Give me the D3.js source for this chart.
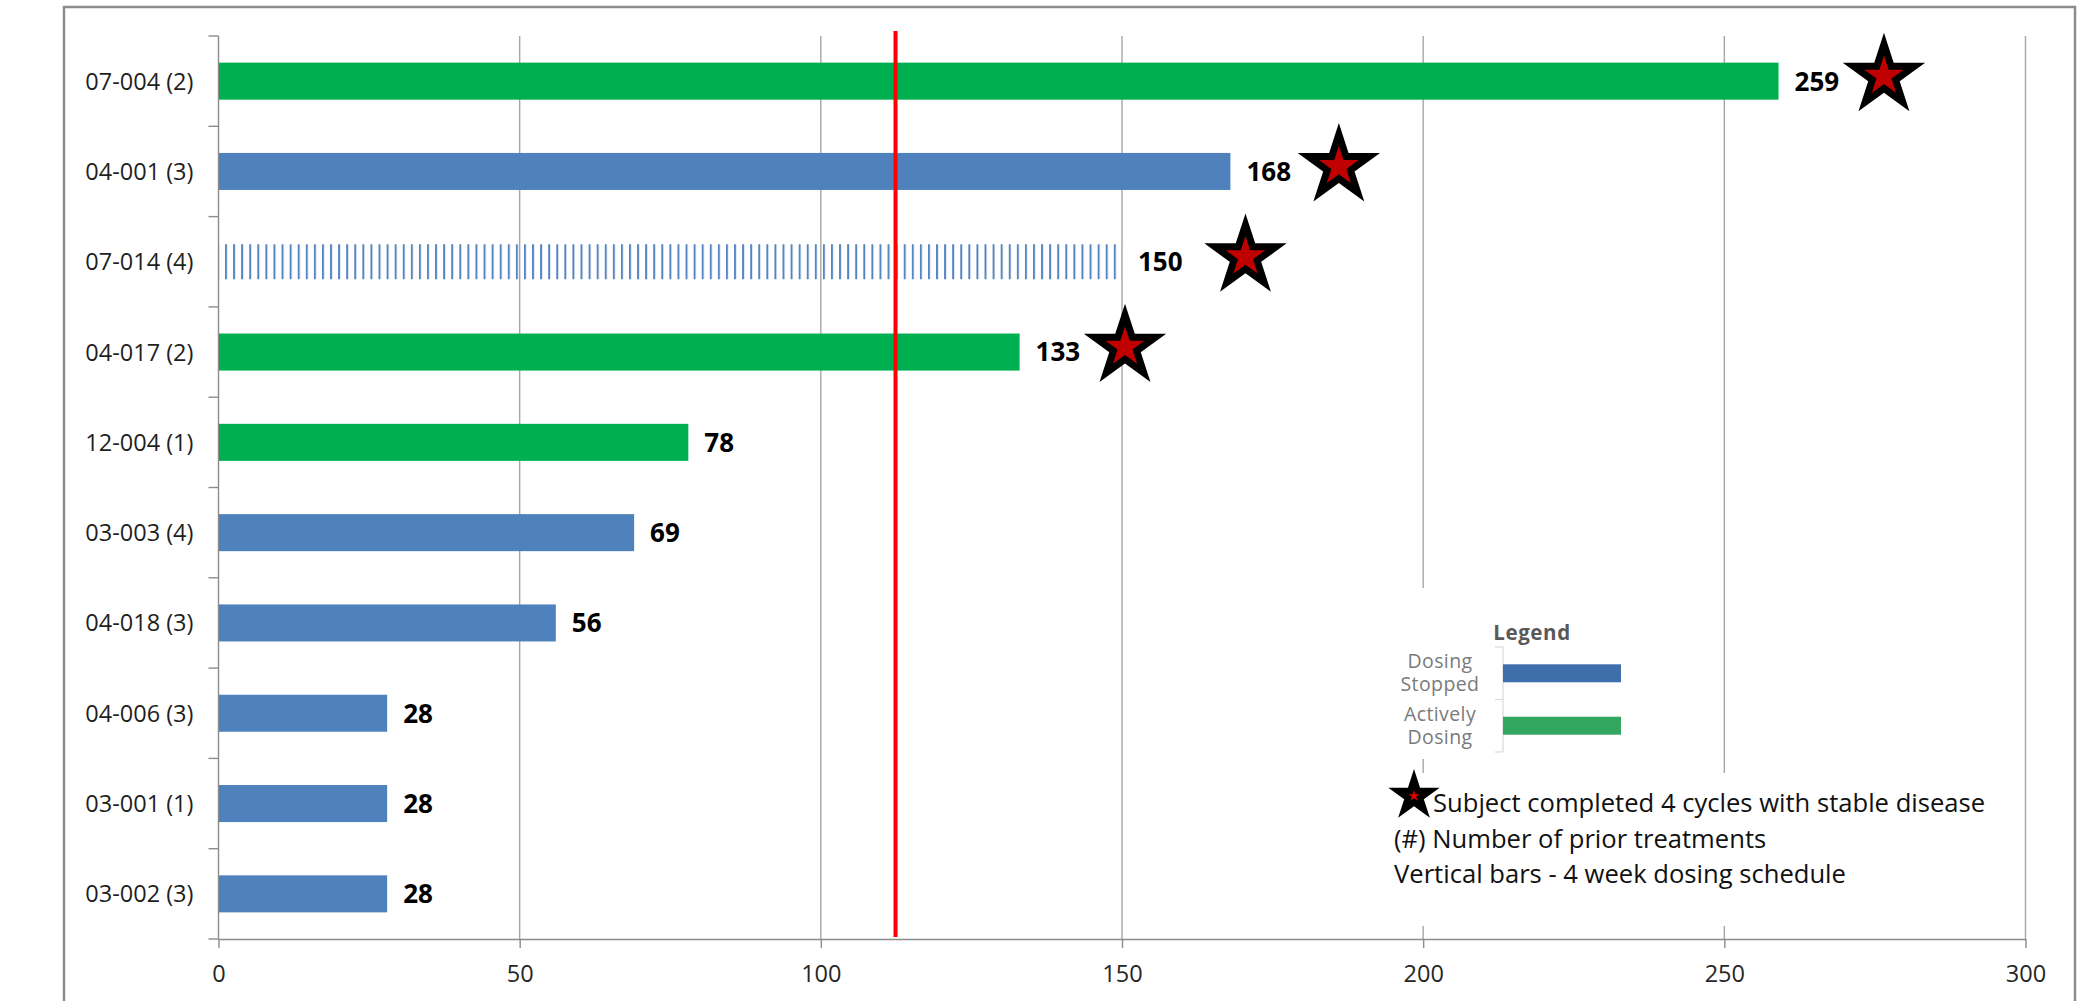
<!DOCTYPE html>
<html><head><meta charset="utf-8">
<script src="https://cdn.jsdelivr.net/npm/d3@7"></script>
<style>body{margin:0;background:#fff;} svg{display:block}</style>
</head><body>
<svg id="c" width="2098" height="1001"></svg>
<script>
// ---- data ----
const categories = ["07-004 (2)","04-001 (3)","07-014 (4)","04-017 (2)","12-004 (1)","03-003 (4)","04-018 (3)","04-006 (3)","03-001 (1)","03-002 (3)"];
const days = [259,168,150,133,78,69,56,28,28,28];
const status = ["active","stopped","schedule","active","active","stopped","stopped","stopped","stopped","stopped"];
const starSubjects = ["07-004 (2)","04-001 (3)","07-014 (4)","04-017 (2)"];
const starDays = [276.5,186,170.5,150.5];
const xTicks = [0,50,100,150,200,250,300];
const cutoffDay = 112.4;
const legendTitle = "Legend";
const legendStatus = ["stopped","active"];
const legendLabels = [["Dosing","Stopped"],["Actively","Dosing"]];
const notes = ["Subject completed 4 cycles with stable disease","(#) Number of prior treatments","Vertical bars - 4 week dosing schedule"];

// ---- styles ----
const colors = {active:"#00b050", stopped:"#4f81bd", schedule:"url(#vhatch)"};
const legendColors = {active:"#33a65f", stopped:"#3f6fab"};
const FONT = "'Open Sans', 'Noto Sans', sans-serif";

const svg = d3.select("#c");
const W = 2098, H = 1001;
const plot = {left:218.5, right:2025.5, top:36, bottom:939};

const x = d3.scaleLinear().domain([0,300]).range([plot.left, plot.right]);
const y = d3.scaleBand().domain(categories).range([plot.top, plot.bottom]).paddingInner(0.59).paddingOuter(0.295);
const step = y.step();

// pattern for vertical-bars fill
const defs = svg.append("defs");
const pat = defs.append("pattern").attr("id","vhatch").attr("patternUnits","userSpaceOnUse")
  .attr("width",8.08).attr("height",20).attr("x", x(0)+6.5).attr("y",0);
pat.append("rect").attr("x",0).attr("y",0).attr("width",2).attr("height",20).attr("fill","#5685c0");

// background
svg.append("rect").attr("width",W).attr("height",H).attr("fill","#fff");

// frame
svg.append("rect").attr("x",64).attr("y",7).attr("width",2011).attr("height",1020)
  .attr("fill","none").attr("stroke","#8c8c8c").attr("stroke-width",2.5);

// gridlines
svg.append("g").selectAll("line").data(xTicks.filter(d=>d>0)).join("line")
  .attr("x1",d=>x(d)).attr("x2",d=>x(d)).attr("y1",plot.top).attr("y2",plot.bottom)
  .attr("stroke","#a6a6a6").attr("stroke-width",1.4);

// x axis
const xAxis = svg.append("g").attr("transform",`translate(0,${plot.bottom})`)
  .call(d3.axisBottom(x).tickValues(xTicks).tickSize(9).tickPadding(17).tickSizeOuter(0));
xAxis.select(".domain").attr("stroke","#8c8c8c").attr("stroke-width",1.4);
xAxis.selectAll(".tick line").attr("stroke","#8c8c8c").attr("stroke-width",1.4);
xAxis.selectAll(".tick text").attr("font-family",FONT).attr("font-size",23.5).attr("fill","#262626");

// y axis
const yAxis = svg.append("g").attr("transform",`translate(${plot.left},0)`)
  .call(d3.axisLeft(y).tickSize(0).tickPadding(25));
yAxis.select(".domain").attr("stroke","#8c8c8c").attr("stroke-width",1.4).attr("d",`M0,${plot.top}V${plot.bottom}`);
yAxis.selectAll(".tick text").attr("font-family",FONT).attr("font-size",23.5).attr("fill","#1f1f1f").attr("dy","0.36em");
// boundary ticks
const bounds = categories.map(c=>y(c)-y.paddingInner()*step/2).concat([plot.bottom]);
yAxis.append("g").selectAll("line").data(bounds).join("line")
  .attr("x1",-10).attr("x2",0).attr("y1",d=>d).attr("y2",d=>d)
  .attr("stroke","#8c8c8c").attr("stroke-width",1.4);

// legend box white background
svg.append("rect").attr("x",1385).attr("y",588).attr("width",315).attr("height",171).attr("fill","#fff");
svg.append("rect").attr("x",1380).attr("y",773).attr("width",625).attr("height",153).attr("fill","#fff");

// bars
const rows = categories.map((c,i)=>({cat:c, v:days[i], s:status[i]}));
svg.append("g").selectAll("rect").data(rows).join("rect")
  .attr("x",x(0)+0.5).attr("y",d=>y(d.cat) + (d.s==="schedule"?1:0))
  .attr("width",d=>x(d.v)-x(0)-0.5).attr("height",d=>y.bandwidth() - (d.s==="schedule"?2:0))
  .attr("fill",d=>colors[d.s]);

// value labels
svg.append("g").selectAll("text").data(rows).join("text")
  .attr("x",d=>x(d.v)+16).attr("y",d=>y(d.cat)+y.bandwidth()/2).attr("dy","0.36em")
  .attr("font-family",FONT).attr("font-weight",700).attr("font-size",26).attr("fill","#000")
  .text(d=>d.v);

// stars
const starR = 32;
const starSym = d3.symbol(d3.symbolStar, starR*starR/0.8908130915292852);
svg.append("g").selectAll("path").data(starSubjects.map((c,i)=>({cat:c, v:starDays[i]}))).join("path")
  .attr("d",starSym)
  .attr("transform",d=>`translate(${x(d.v)},${y(d.cat)+y.bandwidth()/2-5})`)
  .attr("fill","#c00000").attr("stroke","#000").attr("stroke-width",7)
  .attr("stroke-linejoin","miter").attr("stroke-miterlimit",10);

// cutoff red line
svg.append("line").attr("x1",x(cutoffDay)).attr("x2",x(cutoffDay)).attr("y1",31).attr("y2",937)
  .attr("stroke","#ff0000").attr("stroke-width",4);

// ---- legend ----
const lg = svg.append("g");
lg.append("text").attr("x",1532).attr("y",640).attr("text-anchor","middle")
  .attr("font-family",FONT).attr("font-weight",700).attr("font-size",20.5).attr("letter-spacing","0.6px")
  .attr("fill","#595959").text(legendTitle);
const ly = d3.scaleBand().domain(legendStatus).range([647,752]).paddingInner(0.657).paddingOuter(0.33);
const lx = d3.scaleLinear().domain([0,1]).range([1503,1621]);
lg.append("line").attr("x1",lx(0)).attr("x2",lx(0)).attr("y1",647).attr("y2",752).attr("stroke","#d9d9d9").attr("stroke-width",1.2);
lg.selectAll("line.t").data([647,699.5,752]).join("line").attr("class","t")
  .attr("x1",lx(0)-8).attr("x2",lx(0)).attr("y1",d=>d).attr("y2",d=>d).attr("stroke","#d9d9d9").attr("stroke-width",1.2);
lg.selectAll("rect.b").data(legendStatus).join("rect").attr("class","b")
  .attr("x",lx(0)).attr("y",d=>ly(d)).attr("width",lx(1)-lx(0)).attr("height",ly.bandwidth())
  .attr("fill",d=>legendColors[d]);
legendStatus.forEach((s,i)=>{
  const cy = ly(s)+ly.bandwidth()/2;
  const t = lg.append("text").attr("text-anchor","middle").attr("font-family",FONT).attr("font-size",19.5)
    .attr("letter-spacing","0.4px").attr("fill","#7a7a7a");
  legendLabels[i].forEach((l,j)=>{
    t.append("tspan").attr("x",1440).attr("y",cy - 5 + j*23).text(l);
  });
});

// notes
const legStar = d3.symbol(d3.symbolStar, 27*27/0.8908130915292852);
lg.append("path").attr("d",legStar).attr("transform","translate(1414,796)").attr("fill","#000");
lg.append("path").attr("d",d3.symbol(d3.symbolStar, 36/0.8908130915292852)).attr("transform","translate(1414,796)").attr("fill","#e00000");
lg.selectAll("text.n").data(notes).join("text").attr("class","n")
  .attr("x",(d,i)=>i===0?1433:1394).attr("y",(d,i)=>812+i*35.5)
  .attr("font-family",FONT).attr("font-size",25.6).attr("fill","#111").text(d=>d);
</script>
</body></html>
